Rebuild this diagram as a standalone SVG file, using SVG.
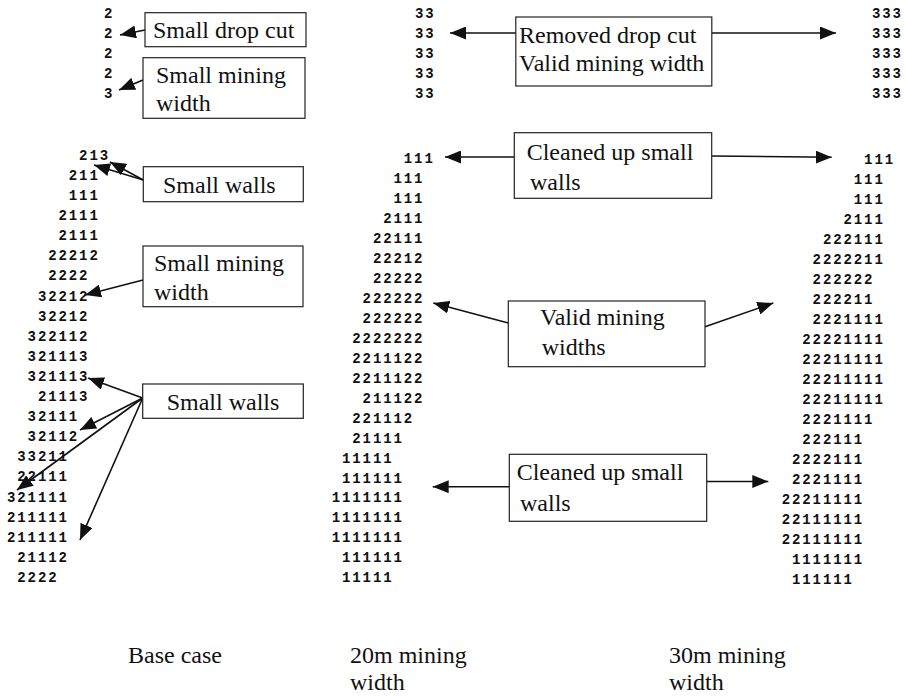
<svg xmlns="http://www.w3.org/2000/svg" width="906" height="696" viewBox="0 0 906 696">
<style>
.d{font-family:"Liberation Mono","Courier New",monospace;font-weight:bold;font-size:14px;letter-spacing:1.9px;fill:#111}
.t{font-family:"Liberation Serif","Times New Roman",serif;font-size:24px;fill:#111}
.b{fill:#fff;stroke:#222;stroke-width:1.2}
.c line{stroke:#111;stroke-width:1.6}
</style>
<defs>
<marker id="ah" markerUnits="userSpaceOnUse" markerWidth="17" markerHeight="13" refX="16" refY="6.5" orient="auto">
<path d="M0,0 L16,6.5 L0,13 z" fill="#111"/>
</marker>
</defs>
<rect width="906" height="696" fill="#fff"/>

<g id="col-base-top" class="d">
<text x="104" y="18.3">2</text>
<text x="104" y="38.3">2</text>
<text x="104" y="58.3">2</text>
<text x="104" y="78.3">2</text>
<text x="104" y="98.3">3</text>
</g>
<g id="col-20-top" class="d">
<text x="415" y="18.3">33</text>
<text x="415" y="38.3">33</text>
<text x="415" y="58.3">33</text>
<text x="415" y="78.3">33</text>
<text x="415" y="98.3">33</text>
</g>
<g id="col-30-top" class="d">
<text x="872" y="18.3">333</text>
<text x="872" y="38.3">333</text>
<text x="872" y="58.3">333</text>
<text x="872" y="78.3">333</text>
<text x="872" y="98.3">333</text>
</g>

<g id="col-base" class="d">
<text x="79.1" y="159.8">213</text>
<text x="68.8" y="179.9">211</text>
<text x="68.8" y="200.0">111</text>
<text x="58.5" y="220.1">2111</text>
<text x="58.5" y="240.2">2111</text>
<text x="48.2" y="260.3">22212</text>
<text x="48.2" y="280.4">2222</text>
<text x="37.9" y="300.5">32212</text>
<text x="37.9" y="320.6">32212</text>
<text x="27.6" y="340.7">322112</text>
<text x="27.6" y="360.8">321113</text>
<text x="27.6" y="380.9">321113</text>
<text x="37.9" y="401.0">21113</text>
<text x="27.6" y="421.1">32111</text>
<text x="27.6" y="441.2">32112</text>
<text x="17.3" y="461.3">33211</text>
<text x="17.3" y="481.4">22111</text>
<text x="7" y="501.5">321111</text>
<text x="7" y="521.6">211111</text>
<text x="7" y="541.7">211111</text>
<text x="17.3" y="561.8">21112</text>
<text x="17.3" y="581.9">2222</text>
</g>

<g id="col-20" class="d">
<text x="403.8" y="163.3">111</text>
<text x="393.5" y="183.25">111</text>
<text x="393.5" y="203.2">111</text>
<text x="383.2" y="223.15">2111</text>
<text x="372.9" y="243.1">22111</text>
<text x="372.9" y="263.05">22212</text>
<text x="372.9" y="283.0">22222</text>
<text x="362.6" y="302.95">222222</text>
<text x="362.6" y="322.9">222222</text>
<text x="352.3" y="342.85">2222222</text>
<text x="352.3" y="362.8">2211122</text>
<text x="352.3" y="382.75">2211122</text>
<text x="362.6" y="402.7">211122</text>
<text x="352.3" y="422.65">221112</text>
<text x="352.3" y="442.6">21111</text>
<text x="342" y="462.55">11111</text>
<text x="342" y="482.5">111111</text>
<text x="331.7" y="502.45">1111111</text>
<text x="331.7" y="522.4">1111111</text>
<text x="331.7" y="542.35">1111111</text>
<text x="342" y="562.3">111111</text>
<text x="342" y="582.25">11111</text>
</g>

<g id="col-30" class="d">
<text x="864.1" y="164.3">111</text>
<text x="853.8" y="184.3">111</text>
<text x="853.8" y="204.3">111</text>
<text x="843.5" y="224.3">2111</text>
<text x="822.9" y="244.3">222111</text>
<text x="812.6" y="264.3">2222211</text>
<text x="812.6" y="284.3">222222</text>
<text x="812.6" y="304.3">222211</text>
<text x="812.6" y="324.3">2221111</text>
<text x="802.3" y="344.3">22221111</text>
<text x="802.3" y="364.3">22211111</text>
<text x="802.3" y="384.3">22211111</text>
<text x="802.3" y="404.3">22211111</text>
<text x="802.3" y="424.3">2221111</text>
<text x="802.3" y="444.3">222111</text>
<text x="792" y="464.3">2222111</text>
<text x="792" y="484.3">2221111</text>
<text x="781.7" y="504.3">22211111</text>
<text x="781.7" y="524.3">22111111</text>
<text x="781.7" y="544.3">22111111</text>
<text x="792" y="564.3">1111111</text>
<text x="792" y="584.3">111111</text>
</g>

<g id="connectors" class="c">
<line x1="145" y1="30" x2="120" y2="35" marker-end="url(#ah)"/>
<line x1="143" y1="80" x2="119" y2="90" marker-end="url(#ah)"/>
<line x1="143.3" y1="180" x2="94" y2="165" marker-end="url(#ah)"/>
<line x1="143.3" y1="180" x2="110" y2="162" marker-end="url(#ah)"/>
<line x1="143" y1="280" x2="85" y2="295" marker-end="url(#ah)"/>
<line x1="142.7" y1="398" x2="88" y2="378" marker-end="url(#ah)"/>
<line x1="142.7" y1="398" x2="80" y2="430" marker-end="url(#ah)"/>
<line x1="142.7" y1="398" x2="17" y2="490" marker-end="url(#ah)"/>
<line x1="142.7" y1="398" x2="80" y2="540" marker-end="url(#ah)"/>
<line x1="516" y1="33" x2="450" y2="33" marker-end="url(#ah)"/>
<line x1="711" y1="33" x2="836" y2="33" marker-end="url(#ah)"/>
<line x1="514.3" y1="157" x2="445" y2="157" marker-end="url(#ah)"/>
<line x1="711.7" y1="156" x2="831.7" y2="157.3" marker-end="url(#ah)"/>
<line x1="508.3" y1="323" x2="433.3" y2="303" marker-end="url(#ah)"/>
<line x1="705" y1="326.7" x2="773.3" y2="303" marker-end="url(#ah)"/>
<line x1="509.3" y1="486.7" x2="432.7" y2="486.7" marker-end="url(#ah)"/>
<line x1="706.7" y1="481.5" x2="768.3" y2="481.5" marker-end="url(#ah)"/>
</g>

<g id="box-small-drop-cut">
<rect class="b" x="145" y="12.7" width="161" height="34"/>
<text class="t" x="153" y="38">Small drop cut</text>
</g>
<g id="box-small-mining-width-1">
<rect class="b" x="143" y="57.7" width="162" height="60.6"/>
<text class="t" x="156" y="83">Small mining</text>
<text class="t" x="156" y="111">width</text>
</g>
<g id="box-small-walls-1">
<rect class="b" x="143.3" y="166.7" width="160" height="35"/>
<text class="t" x="163" y="193">Small walls</text>
</g>
<g id="box-small-mining-width-2">
<rect class="b" x="143" y="246" width="160" height="60.7"/>
<text class="t" x="154" y="271">Small mining</text>
<text class="t" x="154" y="300">width</text>
</g>
<g id="box-small-walls-2">
<rect class="b" x="142.7" y="384" width="160.6" height="34.3"/>
<text class="t" x="166.7" y="410">Small walls</text>
</g>
<g id="box-removed-drop-cut">
<rect class="b" x="515.8" y="17" width="196" height="69"/>
<text class="t" x="519" y="43">Removed drop cut</text>
<text class="t" x="519" y="71">Valid mining width</text>
</g>
<g id="box-cleaned-1">
<rect class="b" x="514.3" y="132.7" width="197.4" height="65.6"/>
<text class="t" x="526.7" y="160">Cleaned up small</text>
<text class="t" x="530" y="190">walls</text>
</g>
<g id="box-valid-widths">
<rect class="b" x="508.3" y="301" width="196.7" height="65.7"/>
<text class="t" x="540" y="325">Valid mining</text>
<text class="t" x="541.7" y="355">widths</text>
</g>
<g id="box-cleaned-2">
<rect class="b" x="509.3" y="454.3" width="197.4" height="67"/>
<text class="t" x="516.7" y="480">Cleaned up small</text>
<text class="t" x="520" y="511">walls</text>
</g>

<g id="captions" class="t">
<text x="128" y="663">Base case</text>
<text x="350" y="663">20m mining</text>
<text x="350" y="690">width</text>
<text x="669" y="663">30m mining</text>
<text x="669" y="690">width</text>
</g>
</svg>
